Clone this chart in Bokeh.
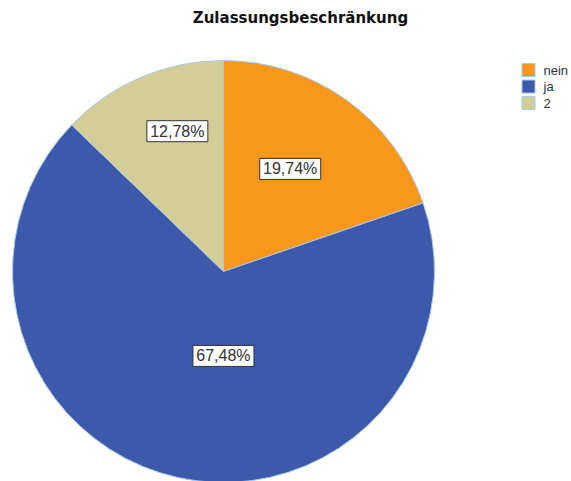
import math
from bokeh.plotting import figure
from bokeh.models import Range1d, ColumnDataSource
from bokeh.core.properties import value
from bokeh.embed import file_html
from bokeh.resources import INLINE

title = "Zulassungsbeschränkung"
categories = ["nein", "ja", "2"]
percent = [19.74, 67.48, 12.78]
labels = ["19,74%", "67,48%", "12,78%"]
colors = ["#F7981D", "#3D59AB", "#D3CE97"]

# layout (style) parameters
W, H = 571, 481
cx, cy, R = 223, 210, 211
label_r = [0.58, 0.40, 0.70]
label_shift = [2.5, 12.5, -4.8]   # degrees

p = figure(width=W, height=H, output_backend="svg", toolbar_location=None,
           x_range=Range1d(0, W), y_range=Range1d(0, H), min_border=0,
           outline_line_color=None, background_fill_color="white")
p.axis.visible = False
p.grid.visible = False

total = sum(percent)
starts, ends, lx, ly = [], [], [], []
a = 90.0
for i, v in enumerate(percent):
    sweep = v / total * 360.0
    s, e = a, a - sweep
    starts.append(math.radians(s))
    ends.append(math.radians(e))
    mid = math.radians((s + e) / 2 + label_shift[i])
    lx.append(cx + label_r[i] * R * math.cos(mid))
    ly.append(cy + label_r[i] * R * math.sin(mid))
    a = e

src = ColumnDataSource(dict(start=starts, end=ends, color=colors,
                            lx=lx, ly=ly, label=labels))
p.wedge(x=cx, y=cy, radius=R, start_angle="start", end_angle="end",
        direction="clock", fill_color="color", line_color="#A8C8EA",
        line_width=1, source=src)

p.rect(x="lx", y="ly", width=61, height=21, fill_color="white",
       line_color="#333333", line_width=1, source=src)
p.text(x="lx", y="ly", text="label", text_align="center", text_baseline="middle",
       text_font=value("Liberation Sans"), text_font_size="16px",
       text_color="#333333", source=src)

# title
p.text(x=[300], y=[H - 17.5], text=[title], text_align="center", text_baseline="middle",
       text_font=value("DejaVu Sans"), text_font_style="bold",
       text_font_size="15px", text_color="#111111")

# legend
n = len(categories)
leg_x = [528] * n
leg_y = [H - (69.5 + 16.5 * i) for i in range(n)]
p.rect(x=leg_x, y=leg_y, width=13, height=13, fill_color=colors,
       line_color="#A8C8EA", line_width=1)
p.text(x=[543] * n, y=leg_y, text=categories, text_align="left",
       text_baseline="middle", text_font=value("Liberation Sans"),
       text_font_size="13px", text_color="#333333")

open("out.html", "w").write(file_html(p, INLINE))
